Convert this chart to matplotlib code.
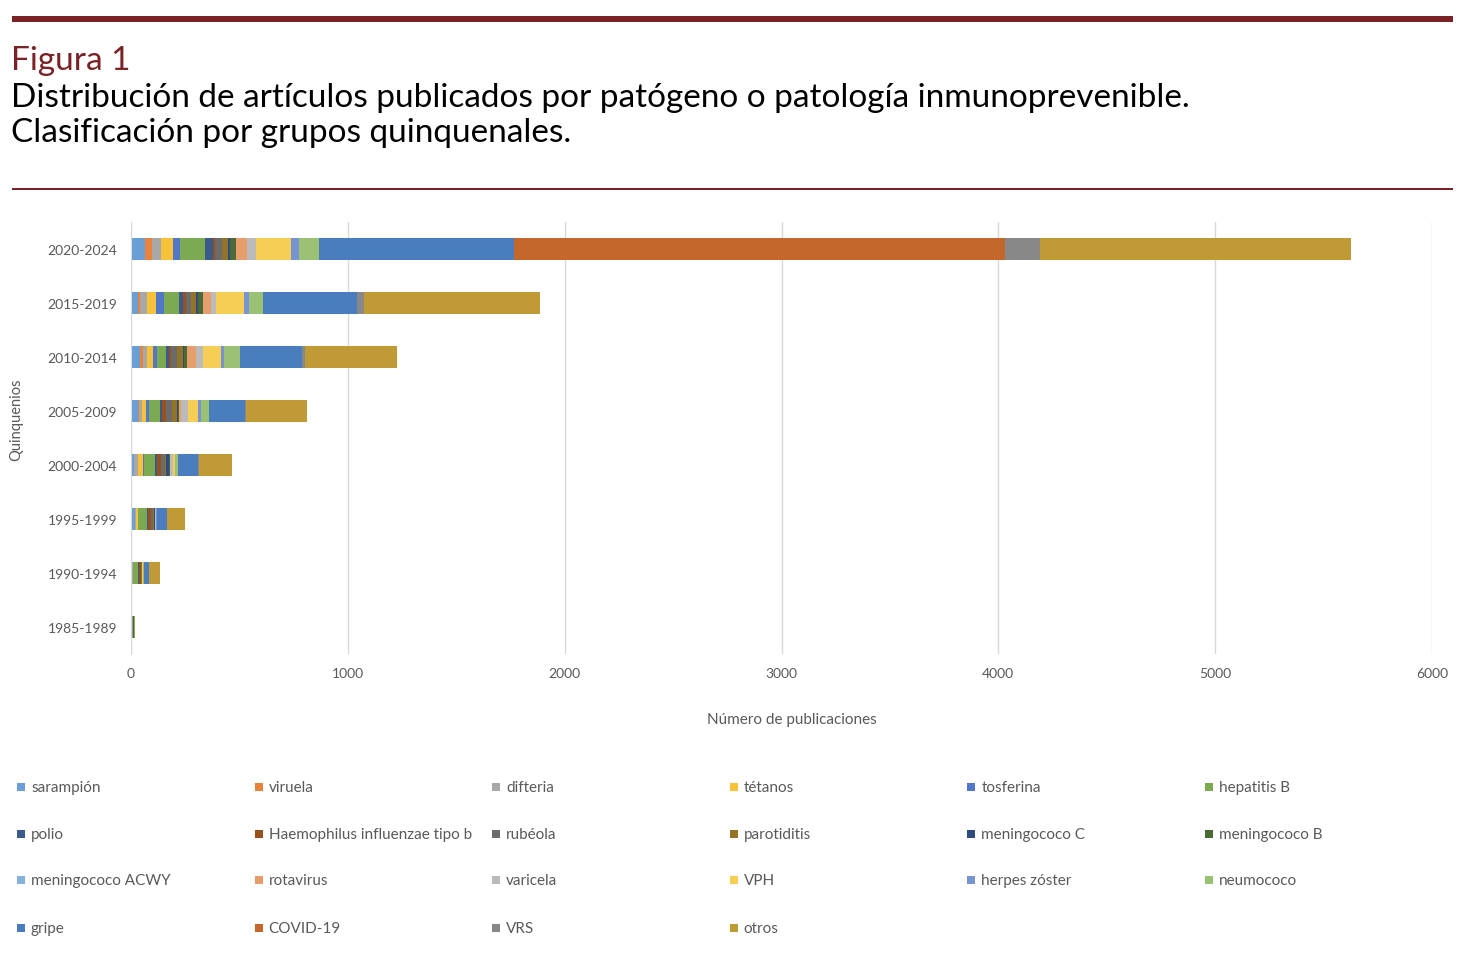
import matplotlib
matplotlib.use("Agg")
import matplotlib.pyplot as plt
from matplotlib.patches import Rectangle
import numpy as np

# ── Data ──────────────────────────────────────────────────────────────────────
quinquenios = ["2020-2024", "2015-2019", "2010-2014", "2005-2009",
               "2000-2004", "1995-1999", "1990-1994", "1985-1989"]

series_names = ["sarampión", "viruela", "difteria", "tétanos", "tosferina", "hepatitis B",
                "polio", "Haemophilus influenzae tipo b", "rubéola", "parotiditis",
                "meningococo C", "meningococo B", "meningococo ACWY", "rotavirus",
                "varicela", "VPH", "herpes zóster", "neumococo", "gripe", "COVID-19",
                "VRS", "otros"]

#                2020  2015  2010  2005  2000  1995  1990  1985
sarampion   = [  66,   31,   42,   31,   12,   18,    6,    4]
viruela     = [  31,   11,   15,    6,    2,    1,    0,    0]
difteria    = [  42,   32,   15,   12,   18,    3,    1,    0]
tetanos     = [  54,   42,   31,   22,   23,   10,    2,    0]
tosferina   = [  35,   35,   17,   14,    5,    2,    1,    0]
hepatitis_b = [ 114,   71,   42,   48,   49,   40,   23,    6]
polio       = [  35,   20,   11,   11,   12,    5,    5,    2]
hib         = [  12,   11,   12,   18,   18,   14,    7,    0]
rubeola     = [  29,   25,   26,   25,   18,    9,    3,    1]
parotiditis = [  31,   23,   31,   25,    6,    3,    1,    0]
men_c       = [   6,    6,    3,    3,   12,    5,    1,    0]
men_b       = [  29,   23,   11,    6,    3,    1,    0,    0]
men_acwy    = [   2,    1,    1,    1,    1,    0,    0,    0]
rotavirus   = [  48,   37,   43,    9,    3,    1,    0,    0]
varicela    = [  42,   23,   34,   32,   12,    3,    3,    0]
vph         = [ 160,  129,   83,   46,    8,    2,    1,    0]
herpes      = [  37,   26,   14,   14,    2,    1,    1,    0]
neumococo   = [  96,   65,   71,   35,   15,    4,    4,    0]
gripe       = [ 896,  430,  285,  169,   92,   45,   25,    3]
covid       = [2267,    0,    0,    0,    0,    0,    0,    0]
vrs         = [ 161,   35,   14,    3,    2,    1,    0,    0]
otros       = [1433,  810,  428,  280,  155,   80,   48,    3]

series_values = [sarampion, viruela, difteria, tetanos, tosferina, hepatitis_b,
                 polio, hib, rubeola, parotiditis, men_c, men_b, men_acwy, rotavirus,
                 varicela, vph, herpes, neumococo, gripe, covid, vrs, otros]

colors = ["#6A9FD5", "#E8833E", "#A8A8A8", "#F8C13A", "#5078C6", "#7BAA52",
          "#3A5A8C", "#99501F", "#6B6B6B", "#937427", "#2E4A7E", "#4A6B35",
          "#88B1DE", "#E89E6B", "#BBBBBB", "#F7CE55", "#7693D2", "#9AC174",
          "#4A7DBE", "#C4672C", "#888888", "#C09A34"]

DARK_RED = "#7A2226"
GREY_TXT = "#595959"

W, H = 1470, 970
fig = plt.figure(figsize=(W / 100, H / 100), dpi=100)
fig.patch.set_facecolor("white")

def fx(px): return px / W
def fy(py): return 1 - py / H

# ── Header ────────────────────────────────────────────────────────────────────
fig.add_artist(Rectangle((fx(12), fy(23)), fx(1441), 6 / H, transform=fig.transFigure,
                         facecolor=DARK_RED, edgecolor="none"))
fig.add_artist(Rectangle((fx(12), fy(191)), fx(1441), 2 / H, transform=fig.transFigure,
                         facecolor=DARK_RED, edgecolor="none"))

head_font = ["Lato", "DejaVu Sans"]
fig.text(fx(11), fy(70), "Figura 1", color=DARK_RED, fontsize=24,
         family=head_font, va="baseline", ha="left")
fig.text(fx(11), fy(107), "Distribución de artículos publicados por patógeno o patología inmunoprevenible.",
         color="black", fontsize=24, family=head_font, va="baseline", ha="left")
fig.text(fx(11), fy(142), "Clasificación por grupos quinquenales.",
         color="black", fontsize=24, family=head_font, va="baseline", ha="left")

# ── Chart ─────────────────────────────────────────────────────────────────────
ax = fig.add_axes([fx(131), fy(655), fx(1432) - fx(131), fy(223) - fy(655)])
y = np.arange(len(quinquenios))
left = np.zeros(len(quinquenios))
for name, vals, col in zip(series_names, series_values, colors):
    vals = np.array(vals, dtype=float)
    ax.barh(y, vals, left=left, height=0.39, color=col, edgecolor="none", label=name)
    left += vals

ax.set_xlim(0, 6000)
ax.set_ylim(len(quinquenios) - 0.5, -0.5)
ax.set_yticks(y)
ax.set_yticklabels(quinquenios)
ax.set_xticks(np.arange(0, 6001, 1000))
ax.tick_params(axis="both", length=0, labelsize=10, labelcolor=GREY_TXT)
ax.tick_params(axis="y", pad=10)
ax.tick_params(axis="x", pad=9)
for lab in ax.get_xticklabels() + ax.get_yticklabels():
    lab.set_family("Lato")
ax.grid(axis="x", color="#D9D9D9", linewidth=1)
ax.set_axisbelow(True)
for s in ["top", "right", "bottom"]:
    ax.spines[s].set_visible(False)
ax.spines["left"].set_color("#D9D9D9")

fig.text(fx(792), fy(720), "Número de publicaciones", ha="center", va="center",
         fontsize=11, color=GREY_TXT, family="Lato")
fig.text(fx(16), fy(420), "Quinquenios", ha="center", va="center", rotation=90,
         fontsize=10.5, color=GREY_TXT, family="Lato")

# ── Legend (row-major, 6 columns, equal spacing) ──────────────────────────────
col_x = [17 + 237.6 * c for c in range(6)]
row_y = [788, 835, 881, 929]
for i, (name, col) in enumerate(zip(series_names, colors)):
    r, c = divmod(i, 6)
    x0, y0 = col_x[c], row_y[r]
    fig.add_artist(Rectangle((fx(x0), fy(y0 + 4)), fx(8), 8 / H, transform=fig.transFigure,
                             facecolor=col, edgecolor="none"))
    fig.text(fx(x0 + 14), fy(y0), name, ha="left", va="center", fontsize=11,
             color=GREY_TXT, family="Lato")

fig.savefig("out.png", dpi=100)
